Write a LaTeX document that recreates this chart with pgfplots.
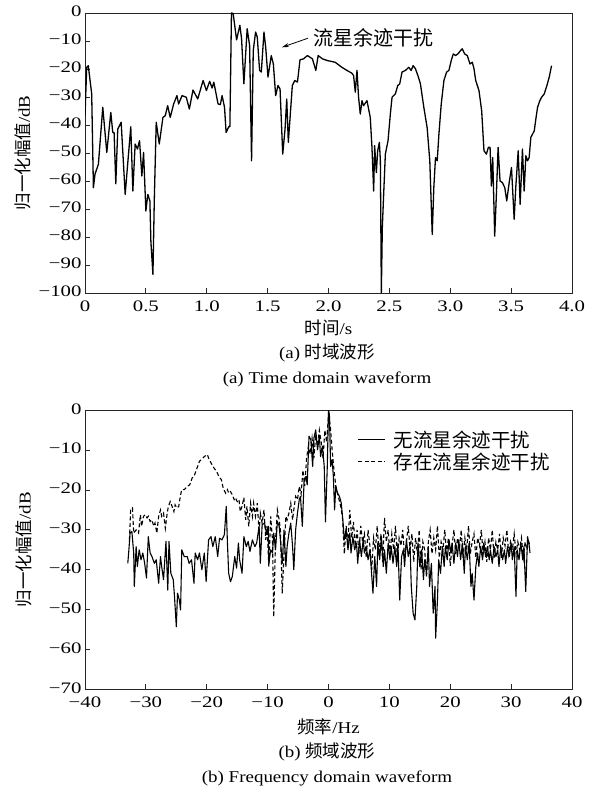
\documentclass[border=0pt]{standalone}
\usepackage{pgfplots}
\pgfplotsset{compat=1.18}
\usetikzlibrary{arrows.meta}
\usepackage{fontspec}
\setmainfont{Liberation Serif}
\newfontfamily\tickfont{Liberation Serif}[FakeStretch=1.3]
\newfontfamily\capfont{Liberation Serif}[FakeStretch=1.15]
\newfontfamily\cjk{Noto Sans CJK SC}
\newcommand{\lf}{\fontsize{17}{20}\selectfont}
\newcommand{\tf}{\tickfont\fontsize{16}{18}\selectfont}
\newcommand{\cf}{\fontsize{17.5}{20}\selectfont}
\newcommand{\capf}{\capfont\fontsize{16.5}{19}\selectfont}
\pgfplotsset{
  common/.style={
    scale only axis, width=487pt,
    axis line style={line width=0.8pt, black!85},
    tick align=inside, xtick pos=bottom, ytick pos=left,
    major tick length=5pt,
    tick style={line width=0.8pt, black!85},
    ticklabel style={font=\tf},
    xticklabel style={yshift=-4.5pt},
    yticklabel style={yshift=1.5pt},
    label style={font=\capf},
    clip=true,
  }
}
\begin{document}
\begin{tikzpicture}
\path[use as bounding box] (0pt,0pt) rectangle (599pt,796pt);
% ---------------- (a) ----------------
\begin{axis}[common, height=280pt, at={(85pt,503pt)}, anchor=south west,
  xmin=0, xmax=4, ymin=-100, ymax=0,
  xtick={0,0.5,1,1.5,2,2.5,3,3.5,4},
  xticklabels={0,0.5,1.0,1.5,2.0,2.5,3.0,3.5,4.0},
  ytick={-100,-90,-80,-70,-60,-50,-40,-30,-20,-10,0},
  yticklabels={−100,−90,−80,−70,−60,−50,−40,−30,−20,−10,0},
  xlabel={{\cjk\cf 时间}/s},
  ylabel={{\cjk\cf 归一化幅值}/dB},
  xlabel style={at={(axis description cs:0.5,-0.125)}, anchor=center},
  ylabel style={at={(axis description cs:-0.127,0.5)}, anchor=center},
]
\addplot[black, line width=1.3pt, line join=round] coordinates {
(0,-36.7) (0.014,-19.4) (0.027,-18.8) (0.055,-28.9) (0.069,-62.4) (0.082,-57.6)
(0.11,-54) (0.146,-33.7) (0.179,-49.8) (0.212,-35.5) (0.228,-42.7) (0.239,-42.7)
(0.253,-61) (0.269,-41.5) (0.297,-39) (0.33,-64.8) (0.376,-40.6) (0.393,-63.6)
(0.412,-46.8) (0.431,-48.6) (0.448,-45.6) (0.467,-58.2) (0.481,-49.8) (0.5,-70.7)
(0.516,-64.8) (0.533,-67.1) (0.541,-81.5) (0.558,-93.4) (0.569,-67.1) (0.585,-39)
(0.61,-46.8) (0.64,-37.3) (0.659,-36.7) (0.679,-33.1) (0.7,-37.3) (0.728,-32.5)
(0.755,-29.5) (0.769,-32.5) (0.797,-29.5) (0.832,-30.1) (0.857,-34.3) (0.887,-27.5)
(0.926,-30.7) (0.97,-24.1) (0.997,-27.7) (1.024,-24.4) (1.044,-26.8) (1.058,-24.7)
(1.093,-32.5) (1.112,-32.7) (1.126,-29.5) (1.146,-33.7) (1.159,-42.7) (1.181,-40.6)
(1.19,-40.6) (1.203,0) (1.217,-0.2) (1.245,-9.6) (1.272,-4.4) (1.286,-9.2)
(1.305,-25.3) (1.332,-5.6) (1.352,-11.6) (1.368,-52.8) (1.382,-13.4) (1.401,-6.8)
(1.415,-8.6) (1.434,-20.5) (1.448,-21.1) (1.47,-6.8) (1.484,-12.2) (1.503,-22.9)
(1.53,-15.2) (1.547,-18.2) (1.566,-29.5) (1.585,-25.9) (1.602,-27.1) (1.624,-50.4)
(1.643,-41.5) (1.657,-30.7) (1.67,-46.2) (1.703,-25.9) (1.723,-24.1) (1.745,-24.7)
(1.766,-16.7) (1.794,-16.4) (1.827,-15.2) (1.868,-16.4) (1.896,-20.5) (1.915,-15.2)
(1.951,-16.4) (1.992,-17) (2.055,-17.6) (2.11,-19.4) (2.151,-20.5) (2.192,-21.5)
(2.206,-22.3) (2.22,-28.3) (2.234,-20.5) (2.247,-30.1) (2.261,-36.1) (2.275,-31.3)
(2.288,-33.1) (2.316,-31.3) (2.343,-37.3) (2.357,-48) (2.371,-63.6) (2.379,-47.4)
(2.393,-57) (2.404,-49.2) (2.418,-46.2) (2.426,-52.8) (2.434,-100) (2.442,-76.7)
(2.453,-64.8) (2.467,-50.4) (2.489,-45.6) (2.508,-36.1) (2.522,-30.1) (2.549,-28.9)
(2.569,-25.9) (2.585,-25.3) (2.604,-21.1) (2.632,-20.5) (2.659,-19.4) (2.679,-20.5)
(2.695,-18.8) (2.714,-19.9) (2.734,-22.3) (2.755,-25.3) (2.783,-33.7) (2.81,-40.9)
(2.832,-52.8) (2.852,-79.1) (2.865,-62.4) (2.879,-51.6) (2.893,-52.8) (2.907,-43.2)
(2.926,-32.5) (2.948,-24.1) (2.97,-21.1) (2.989,-20.5) (3.008,-17) (3.025,-14.6)
(3.044,-15.2) (3.063,-14.6) (3.085,-13.4) (3.099,-12.8) (3.118,-14.6) (3.14,-15.2)
(3.162,-18.2) (3.181,-17.6) (3.195,-19.9) (3.209,-24.1) (3.236,-27.7) (3.258,-34.9)
(3.277,-49.2) (3.297,-50.4) (3.313,-48) (3.327,-48) (3.338,-61.8) (3.349,-51.6)
(3.365,-79.7) (3.379,-64.8) (3.393,-48) (3.409,-60) (3.429,-60.6) (3.448,-62.4)
(3.464,-67.1) (3.484,-60.6) (3.503,-55.2) (3.525,-73.7) (3.538,-62.4) (3.558,-49.2)
(3.574,-68.3) (3.593,-48.6) (3.607,-63.6) (3.621,-51) (3.635,-52.8) (3.648,-51.6)
(3.662,-44.4) (3.69,-42.1) (3.703,-37.9) (3.717,-33.7) (3.736,-31.3) (3.75,-30.1)
(3.772,-28.9) (3.794,-25.9) (3.813,-22.9) (3.832,-18.8)
};
\draw[-{Stealth[length=7pt,width=4pt]}, line width=0.8pt] (axis cs:1.832,-9.0) -- (axis cs:1.618,-12.25);
\node[anchor=west, inner sep=0pt, font=\cjk\fontsize{20}{22}\selectfont] at (axis cs:1.873,-9.0) {流星余迹干扰};
\end{axis}
\node[font=\capf] at (327pt,443pt) {(a) {\cjk\cf 时域波形}};
\node[font=\capf] at (327pt,417pt) {(a) Time domain waveform};
% ---------------- (b) ----------------
\begin{axis}[common, height=279pt, at={(85pt,106.7pt)}, anchor=south west,
  xmin=-40, xmax=40, ymin=-70, ymax=0,
  xtick={-40,-30,-20,-10,0,10,20,30,40},
  xticklabels={−40,−30,−20,−10,0,10,20,30,40},
  ytick={-70,-60,-50,-40,-30,-20,-10,0},
  yticklabels={−70,−60,−50,−40,−30,−20,−10,0},
  xlabel={{\cjk\cf 频率}/Hz},
  ylabel={{\cjk\cf 归一化幅值}/dB},
  xlabel style={at={(axis description cs:0.5,-0.135)}, anchor=center},
  ylabel style={at={(axis description cs:-0.125,0.5)}, anchor=center},
  legend style={at={(axis cs:4.6,-4.3)}, anchor=north west, draw=none, fill=none,
    font=\cjk\fontsize{19.5}{21}\selectfont, row sep=0pt, inner sep=1pt,
    cells={anchor=west}},
  legend image code/.code={\draw[#1] (0pt,0pt) -- (27pt,0pt); \path (33pt,0pt);},
]
\addplot[black, line width=1.1pt, line join=round] coordinates {
(-32.97,-38.4) (-32.75,-34.2) (-32.6,-30.8) (-32.3,-30.4) (-32.0,-35.8) (-31.9,-44.2)
(-31.6,-34.2) (-31.4,-39.2) (-31.1,-35) (-30.8,-37.5) (-30.5,-35.8) (-30.2,-38.4)
(-29.9,-42.1) (-29.6,-31.7) (-29.3,-35.8) (-29.0,-36.7) (-28.6,-38.4) (-28.3,-37.5)
(-27.9,-43.4) (-27.6,-36.7) (-27.4,-39.2) (-27.1,-42.5) (-26.7,-32.9) (-26.4,-45.1)
(-26.2,-32.9) (-25.9,-40.9) (-25.5,-42.5) (-25.3,-46.7) (-25.0,-54.3) (-24.8,-45.9)
(-24.5,-47.6) (-24.3,-50.1) (-24.1,-35) (-23.7,-36.7) (-23.2,-36.7) (-22.9,-38.4)
(-22.5,-37.5) (-22.1,-43.4) (-21.9,-35.8) (-21.5,-37.5) (-21.2,-35.8) (-20.8,-40)
(-20.4,-35.8) (-20.1,-43) (-19.7,-32.5) (-19.3,-31.7) (-19.0,-34.2) (-18.6,-31.7)
(-18.2,-36.7) (-17.9,-32.1) (-17.5,-32.5) (-17.1,-31.2) (-16.8,-24.1) (-16.6,-33.3)
(-16.4,-40.9) (-16.1,-43) (-15.8,-41.7) (-15.4,-36.7) (-15.1,-39.6) (-14.8,-33.3)
(-14.6,-37.5) (-14.2,-40.9) (-13.9,-31.7) (-13.5,-34.2) (-13.2,-32.9) (-12.9,-35.4)
(-12.5,-32.5) (-12.1,-34.2) (-11.8,-33.3) (-11.4,-29.1) (-11.2,-38.4) (-10.9,-28.7)
(-10.5,-28.3) (-10.2,-30.8) (-9.9,-29.1) (-9.8,-38.4) (-9.5,-35) (-9.2,-35.8)
(-9.0,-30.8) (-8.7,-35) (-8.4,-27.9) (-8.1,-29.1) (-7.9,-32.5) (-7.6,-38.4)
(-7.3,-30) (-7.0,-39.2) (-6.8,-34.2) (-6.5,-30.8) (-6.2,-28.3) (-5.9,-34.2)
(-5.7,-40) (-5.4,-30) (-5.1,-25.8) (-4.8,-22.4) (-4.6,-21.6) (-4.3,-29.1)
(-4.0,-17.4) (-3.7,-16.6) (-3.5,-18.7) (-3.2,-6.5) (-2.9,-7.4) (-2.6,-14.1)
(-2.4,-7) (-2.1,-4.9) (-1.8,-9.9) (-1.5,-6.5) (-1.3,-11.6) (-1.0,-9)
(-0.7,-14.1) (-0.5,-28) (-0.2,-14.1) (0,0) (0.15,-1) (0.35,-14.1)
(0.6,-12.4) (0.8,-16.6) (1.0,-25) (1.2,-19.1) (1.5,-20.8) (1.8,-21.6)
(2.1,-23.3) (2.4,-28.3) (2.6,-32.5) (2.9,-30) (3.2,-35) (3.5,-30.8)
(3.7,-35.8) (4.0,-31.7) (4.3,-35) (4.6,-33.3) (4.8,-38.4) (5.1,-32.5)
(5.4,-36.7) (5.7,-32.5) (5.9,-35.8) (6.2,-34.2) (6.5,-37.5) (6.8,-35)
(7.0,-39.2) (7.3,-45.9) (7.6,-36.7) (7.9,-44.2) (8.1,-33.3) (8.4,-37.5)
(8.7,-31.7) (9.0,-39.2) (9.2,-35) (9.5,-40.9) (9.8,-33.3) (10.1,-37.5)
(10.3,-34.2) (10.6,-38.4) (10.9,-34.2) (11.2,-39.2) (11.4,-33.3) (11.7,-47.6)
(12.0,-36.7) (12.3,-35) (12.5,-39.2) (12.8,-32.5) (13.1,-36.7) (13.4,-34.2)
(13.6,-44.2) (13.9,-50.9) (14.2,-52.6) (14.5,-44.2) (14.7,-33.3) (15.0,-39.2)
(15.3,-35) (15.6,-42.5) (15.8,-37.5) (16.1,-40.9) (16.4,-34.2) (16.6,-44.2)
(16.9,-38.4) (17.2,-50.9) (17.5,-44.2) (17.6,-57.2) (17.9,-47.6) (18.1,-37.5)
(18.4,-40.9) (18.7,-34.2) (19.0,-39.2) (19.2,-34.2) (19.5,-37.5) (19.8,-32.5)
(20.1,-35.8) (20.3,-33.3) (20.6,-38.4) (20.9,-33.3) (21.2,-36.7) (21.4,-32.5)
(21.7,-37.5) (22.0,-33.3) (22.3,-40.9) (22.5,-34.2) (22.8,-37.5) (23.1,-33.3)
(23.4,-44.2) (23.6,-40.9) (23.9,-47.6) (24.2,-39.2) (24.5,-35.8) (24.7,-39.2)
(25.0,-34.2) (25.3,-37.5) (25.5,-33.3) (25.8,-36.7) (26.1,-34.2) (26.4,-37.5)
(26.6,-35) (26.9,-38.4) (27.2,-34.2) (27.5,-36.7) (27.8,-35) (28.0,-39.2)
(28.3,-34.2) (28.6,-37.5) (28.9,-35) (29.1,-38.4) (29.4,-34.2) (29.7,-36.7)
(30.0,-33.3) (30.2,-37.5) (30.5,-34.2) (30.8,-46.7) (31.0,-35) (31.3,-37.5)
(31.6,-33.3) (31.9,-37.5) (32.1,-34.2) (32.4,-45.5) (32.7,-31.7) (33.0,-34.2)
(33.1,-35.8)
};
\addlegendentry{无流星余迹干扰}
\addplot[black, line width=1.1pt, dash pattern=on 4pt off 2.5pt] coordinates {
(-32.7,-32.5) (-32.5,-25) (-32.2,-24.5) (-32.0,-30.8) (-31.6,-30) (-31.2,-30.8)
(-30.9,-26.2) (-30.7,-29.1) (-30.4,-26.6) (-30.1,-26.2) (-29.8,-27) (-29.6,-26.6)
(-29.3,-27.9) (-29.0,-27.5) (-28.7,-29.1) (-28.5,-28.3) (-28.2,-30.8) (-27.9,-26.6)
(-27.6,-25) (-27.4,-26.6) (-27.1,-25.8) (-26.8,-29.6) (-26.5,-25.8) (-26.3,-24.1)
(-26.0,-22.9) (-25.7,-24.1) (-25.4,-25.4) (-25.2,-23.7) (-24.9,-24.5) (-24.6,-24.1)
(-24.3,-21.2) (-24.1,-19.9) (-23.7,-19.9) (-23.2,-19.1) (-22.8,-18.7) (-22.4,-17)
(-22.0,-16.2) (-21.6,-14.5) (-21.2,-12.8) (-20.8,-12.2) (-20.4,-11.6) (-19.9,-11.1)
(-19.7,-12) (-19.3,-13.2) (-18.8,-14.5) (-18.4,-15.3) (-18.0,-16.6) (-17.6,-17.4)
(-17.3,-19.5) (-16.9,-20.8) (-16.6,-19.9) (-16.4,-20.8) (-16.1,-20.4) (-15.8,-21.2)
(-15.5,-22.4) (-15.3,-21.9) (-15.0,-22.9) (-14.7,-22.4) (-14.5,-25.4) (-14.2,-24.1)
(-13.9,-21.9) (-13.6,-27.5) (-13.4,-24.1) (-13.1,-29.1) (-12.8,-23.3) (-12.5,-26.6)
(-12.3,-23.3) (-12.0,-26.6) (-11.7,-23.3) (-11.4,-30.8) (-11.2,-25.8) (-10.9,-28.3)
(-10.6,-25) (-10.3,-32.5) (-10.1,-29.1) (-9.8,-39.2) (-9.5,-26.6) (-9.2,-32.5)
(-9.0,-51.8) (-8.7,-32.5) (-8.4,-25) (-8.1,-27.5) (-7.9,-30) (-7.6,-45.9)
(-7.3,-35.8) (-7.0,-26.6) (-6.8,-27.5) (-6.5,-25.8) (-6.2,-23.3) (-5.9,-27.5)
(-5.7,-25) (-5.4,-21.6) (-5.1,-22.4) (-4.8,-19.1) (-4.5,-21) (-4.2,-15)
(-3.9,-19) (-3.6,-12) (-3.3,-9) (-3.0,-11) (-2.7,-7) (-2.4,-12)
(-2.1,-6) (-1.8,-9) (-1.5,-5) (-1.2,-8) (-0.9,-12) (-0.6,-5)
(-0.3,-8) (0,-1) (0.3,-4) (0.6,-10) (0.9,-15) (1.2,-19)
(1.5,-21) (2.0,-24) (2.3,-27) (2.6,-36) (2.9,-29) (3.2,-33)
(3.5,-25) (3.8,-32) (4.1,-28) (4.4,-34) (4.7,-30) (5.0,-36)
(5.3,-29) (5.6,-33) (5.9,-31) (6.2,-37) (6.5,-30) (6.8,-34)
(7.1,-40) (7.4,-32) (7.7,-35) (8.0,-29) (8.3,-36) (8.6,-31)
(8.9,-38) (9.2,-27) (9.5,-33) (9.8,-30) (10.1,-36) (10.4,-31)
(10.7,-35) (11.0,-29) (11.3,-37) (11.6,-32) (11.9,-34) (12.2,-30)
(12.5,-37) (12.8,-33) (13.1,-29) (13.4,-35) (13.7,-31) (14.0,-38)
(14.3,-32) (14.6,-36) (14.9,-30) (15.2,-40) (15.5,-33) (15.8,-35)
(16.1,-42) (16.4,-33) (16.7,-30) (17.0,-36) (17.3,-32) (17.6,-35)
(17.9,-29) (18.2,-37) (18.5,-33) (18.8,-35) (19.1,-30) (19.4,-36)
(19.7,-32) (20.0,-39) (20.3,-34) (20.6,-30) (20.9,-36) (21.2,-32)
(21.5,-35) (21.8,-30) (22.1,-37) (22.4,-32) (22.7,-35) (23.0,-29)
(23.3,-36) (23.6,-33) (23.9,-31) (24.2,-37) (24.5,-32) (24.8,-34)
(25.1,-30) (25.4,-36) (25.7,-33) (26.0,-38) (26.3,-32) (26.6,-35)
(26.9,-30) (27.2,-37) (27.5,-33) (27.8,-35) (28.1,-31) (28.4,-37)
(28.7,-32) (29.0,-34) (29.3,-30) (29.6,-36) (29.9,-33) (30.2,-35)
(30.5,-31) (30.8,-36) (31.1,-33) (31.4,-35) (31.7,-32) (32.0,-37)
(32.3,-33) (32.6,-35) (32.9,-33) (33.1,-34)
};
\addlegendentry{存在流星余迹干扰}
\end{axis}
\node[font=\capf] at (327pt,44pt) {(b) {\cjk\cf 频域波形}};
\node[font=\capf] at (327pt,18pt) {(b) Frequency domain waveform};
\end{tikzpicture}
\end{document}
